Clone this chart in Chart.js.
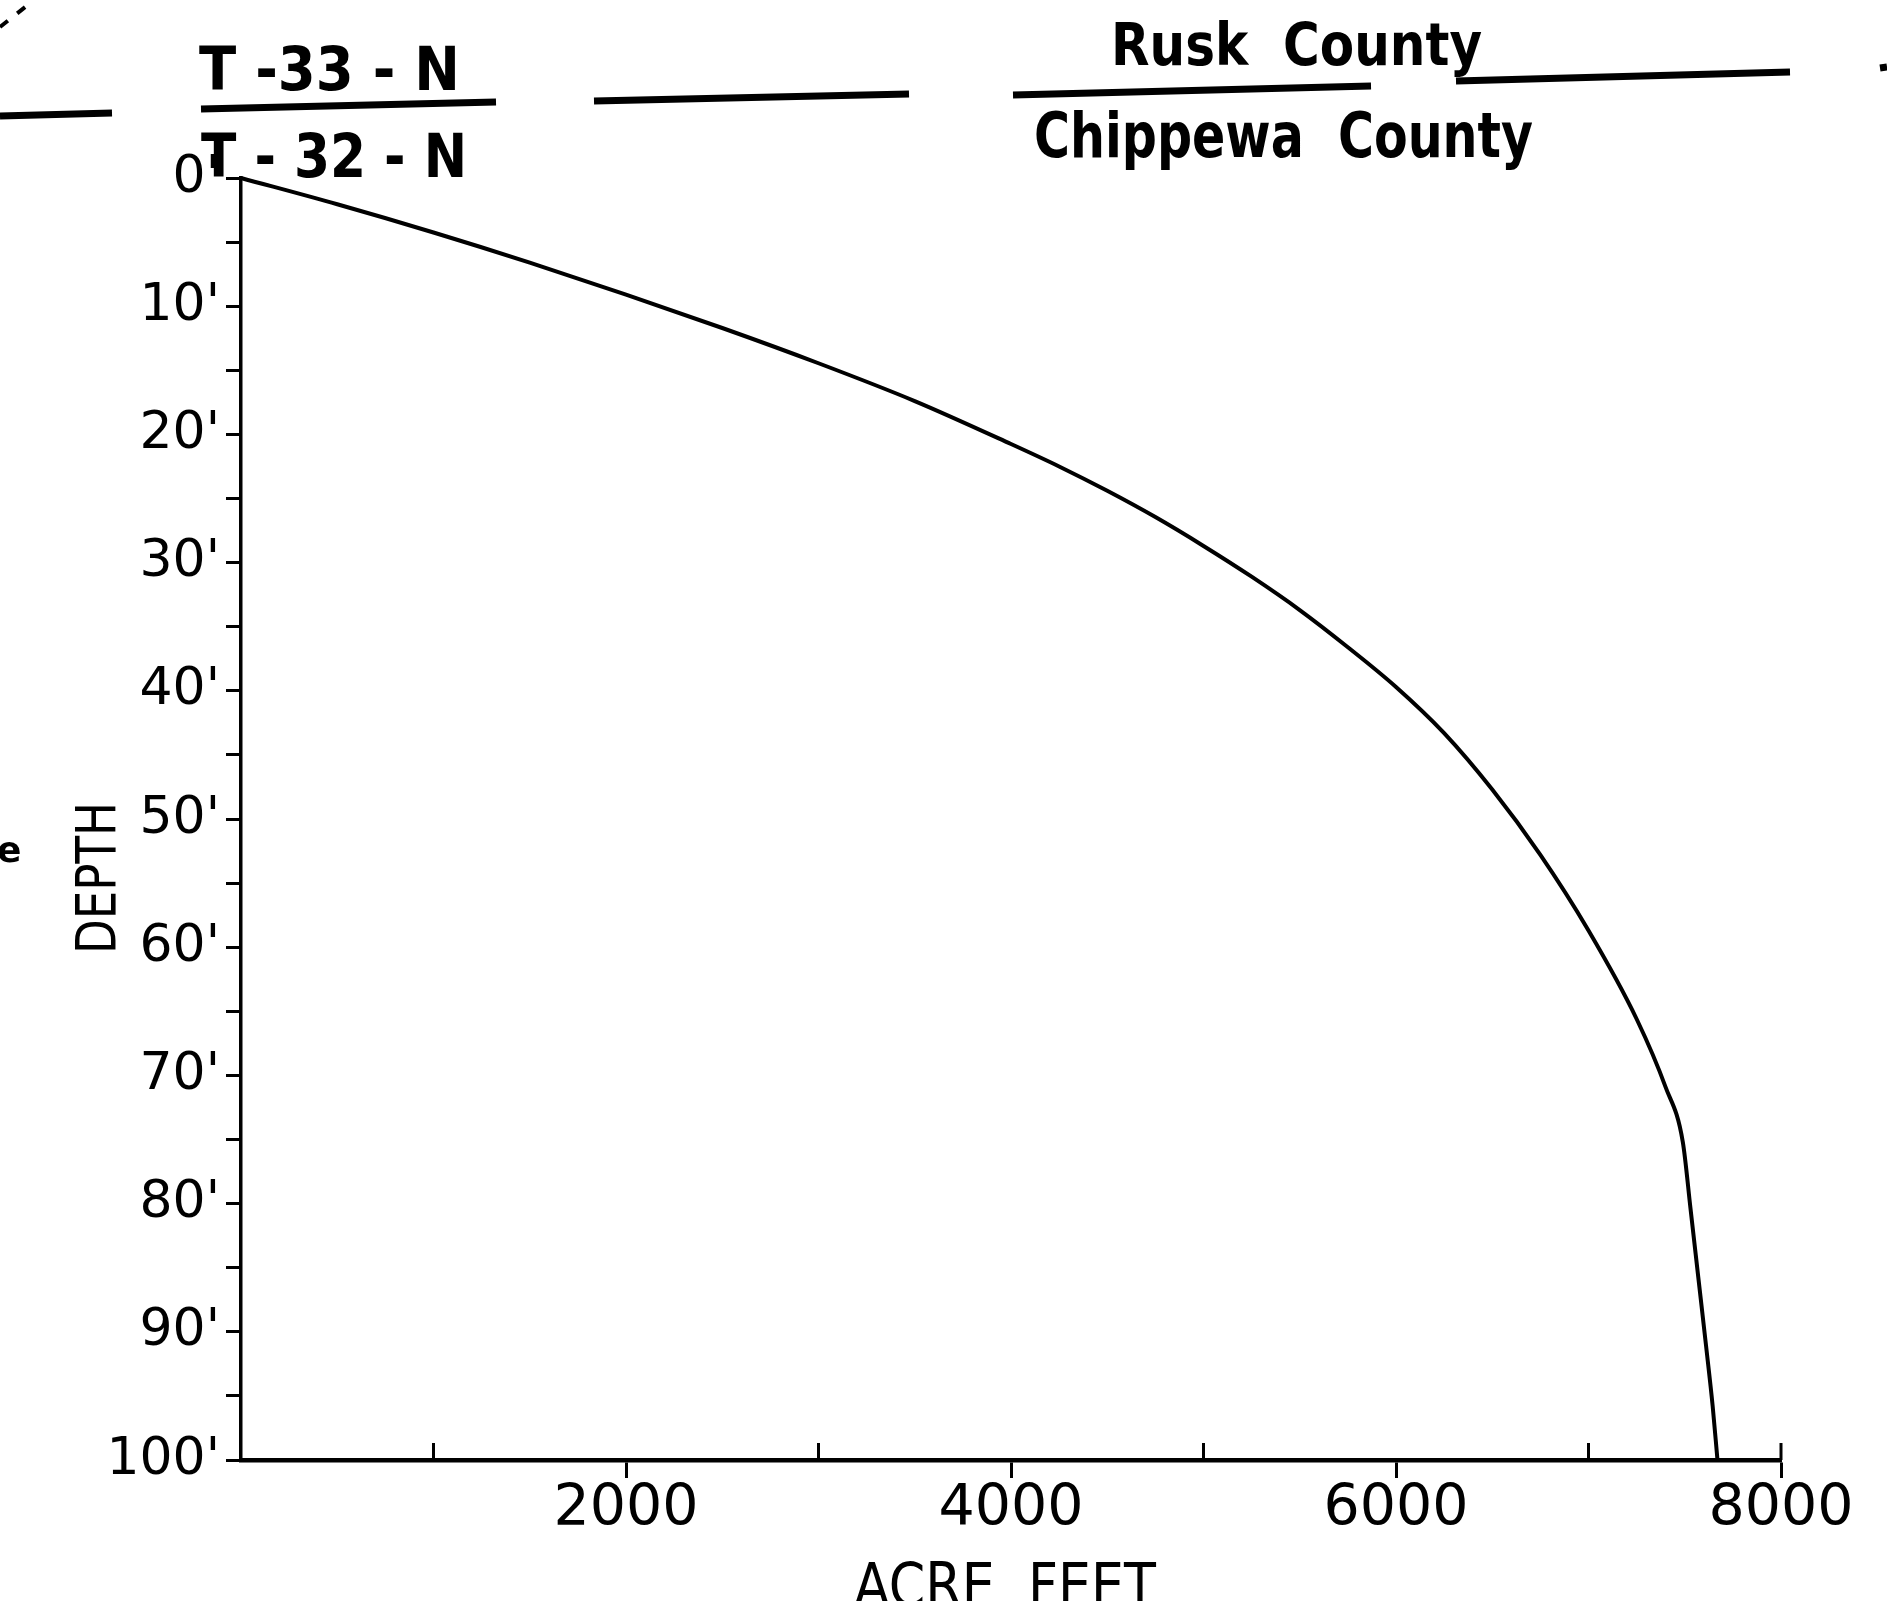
<!DOCTYPE html>
<html>
<head>
<meta charset="utf-8">
<script src="https://cdn.jsdelivr.net/npm/chart.js@4/dist/chart.umd.min.js"></script>
<style>
  html, body { margin: 0; padding: 0; background: #fff; }
  #wrap { width: 1887px; height: 1601px; position: relative; }
</style>
</head>
<body>
<div id="wrap"><canvas id="chart1"></canvas></div>
<script>
// storage curve
const acreFeet = [0, 500, 1000, 1500, 2000, 2500, 3000, 3500, 4000, 4250, 4500, 4750, 5000, 5250, 5500, 5750, 6000, 6250, 6500, 6750, 7000, 7250, 7400, 7490, 7530, 7570, 7610, 7645, 7670];
const depthFt = [0, 2.05, 4.25, 6.6, 9.1, 11.7, 14.45, 17.4, 20.75, 22.5, 24.4, 26.45, 28.7, 31.1, 33.7, 36.6, 39.7, 43.3, 47.7, 52.8, 58.7, 65.6, 70.9, 75.2, 80.4, 85.7, 91.0, 95.8, 100];

const xLabelTicks = [2000, 4000, 6000, 8000];
const xUpTicks = [1000, 3000, 5000, 7000, 8000];
const yLabelTicks = [0, 10, 20, 30, 40, 50, 60, 70, 80, 90, 100];

const FONT = "'DejaVu Sans', sans-serif";

function txt(ctx, s, x, y, font, width, align) {
  ctx.font = font + " " + FONT;
  ctx.textAlign = align || "left";
  ctx.fillText(s, x, y, width);
}

function bar(ctx, x1, y1, x2, y2, w) {
  ctx.lineWidth = w;
  ctx.beginPath();
  ctx.moveTo(x1, y1);
  ctx.lineTo(x2, y2);
  ctx.stroke();
}

const mapPlugin = {
  id: "mapText",
  afterDraw(chart) {
    const ctx = chart.ctx;
    const xs = chart.scales.x;
    ctx.save();
    ctx.fillStyle = "#000";
    ctx.strokeStyle = "#000";
    ctx.lineCap = "butt";

    // small ticks pointing up from the x axis
    xUpTicks.forEach(function (v) {
      const px = xs.getPixelForValue(v);
      bar(ctx, px, xs.top, px, xs.top - 17, 3);
    });

    // township / county boundary lines
    bar(ctx, 0, 116, 112, 113, 7);
    bar(ctx, 201, 109, 496, 102, 7);
    bar(ctx, 594, 101, 909, 94, 7);
    bar(ctx, 1013, 95, 1371, 86, 7);
    bar(ctx, 1456, 81, 1790, 72, 7);
    bar(ctx, 1880, 68, 1887, 67, 7);

    ctx.setLineDash([10, 12]);
    bar(ctx, 0, 27, 34, 0, 4);
    ctx.setLineDash([]);

    ctx.textBaseline = "alphabetic";
    txt(ctx, "T -33 - N", 199, 90, "bold 60px", 261);
    txt(ctx, "T - 32 - N", 201, 177, "bold 61px", 266);
    txt(ctx, "Rusk  County", 1111, 65, "bold 58px", 371);
    txt(ctx, "Chippewa  County", 1034, 157, "bold 62px", 499);
    txt(ctx, "ACRE  FEET", 1005, 1606, "60px", 302, "center");

    txt(ctx, "e", -3, 862, "bold 36px");

    ctx.save();
    ctx.translate(101, 878);
    ctx.rotate(-Math.PI / 2);
    ctx.textBaseline = "middle";
    txt(ctx, "DEPTH", 0, 0, "55px", 152, "center");
    ctx.restore();

    ctx.restore();
  }
};

const canvas1 = document.getElementById("chart1");
const ctx1 = canvas1.getContext("2d");

const chart1 = new Chart(ctx1, {
  type: "scatter",
  data: {
    datasets: [
      {
        label: "Acre feet",
        data: acreFeet.map(function (a, i) { return { x: a, y: depthFt[i] }; }),
        showLine: true,
        borderColor: "#000",
        borderWidth: 4,
        pointRadius: 0,
        cubicInterpolationMode: "monotone",
        clip: false,
      },
    ],
  },
  options: {
    responsive: true,
    maintainAspectRatio: false,
    animation: false,
    devicePixelRatio: 1,
    layout: { padding: { left: 0, right: 106, top: 178, bottom: 0 } },
    plugins: {
      legend: { display: false },
      tooltip: { enabled: false },
    },
    scales: {
      x: {
        type: "linear",
        min: 0,
        max: 8000,
        afterFit: function (s) { s.height = 141; },
        border: { display: true, color: "#000", width: 4.5 },
        grid: {
          drawOnChartArea: false,
          tickLength: 18,
          tickWidth: 3,
          tickColor: function (c) {
            return xLabelTicks.indexOf(c.tick.value) >= 0 ? "#000" : "rgba(0,0,0,0)";
          },
        },
        ticks: {
          stepSize: 1000,
          autoSkip: false,
          maxRotation: 0,
          padding: -2,
          color: "#000",
          font: { family: FONT, size: 57 },
          callback: function (v) { return xLabelTicks.indexOf(v) >= 0 ? String(v) : ""; },
        },
      },
      y: {
        type: "linear",
        reverse: true,
        min: 0,
        max: 100,
        afterFit: function (s) { s.width = 241; },
        border: { display: true, color: "#000", width: 3.5 },
        grid: {
          drawOnChartArea: false,
          tickLength: 15,
          tickWidth: 3,
          tickColor: "#000",
        },
        ticks: {
          stepSize: 5,
          autoSkip: false,
          padding: 6,
          color: "#000",
          font: { family: FONT, size: 52 },
          callback: function (v) { return yLabelTicks.indexOf(v) >= 0 ? v + "'" : ""; },
        },
      },
    },
  },
  plugins: [mapPlugin],
});
</script>
</body>
</html>
